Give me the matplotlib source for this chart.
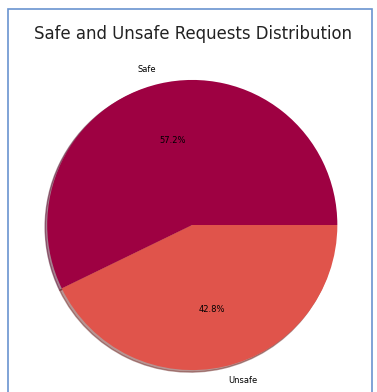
import matplotlib.pyplot as plt
from matplotlib.patches import Rectangle

labels = ['Safe', 'Unsafe']
sizes = [57.2, 42.8]
colors = ['#9e0142', '#e0544b']

fig = plt.figure(figsize=(3.77, 3.92), dpi=100)
ax = fig.add_axes([0.029, -0.055, 0.962, 0.962])

ax.pie(sizes, labels=labels, colors=colors, autopct='%1.1f%%',
       shadow={'ox': -0.01, 'oy': -0.01, 'shade': 0.5},
       startangle=0, textprops={'fontsize': 6})
ax.set_aspect('equal')

fig.text(0.512, 0.913, 'Safe and Unsafe Requests Distribution', ha='center',
         va='center', fontsize=11.9, color='#222222')

# screenshot frame
fig.patches.append(Rectangle((0.021, -0.01), 0.966, 0.986, transform=fig.transFigure,
                             fill=False, edgecolor='#6a93cf', linewidth=1.2))

fig.savefig('out.png', dpi=100)
